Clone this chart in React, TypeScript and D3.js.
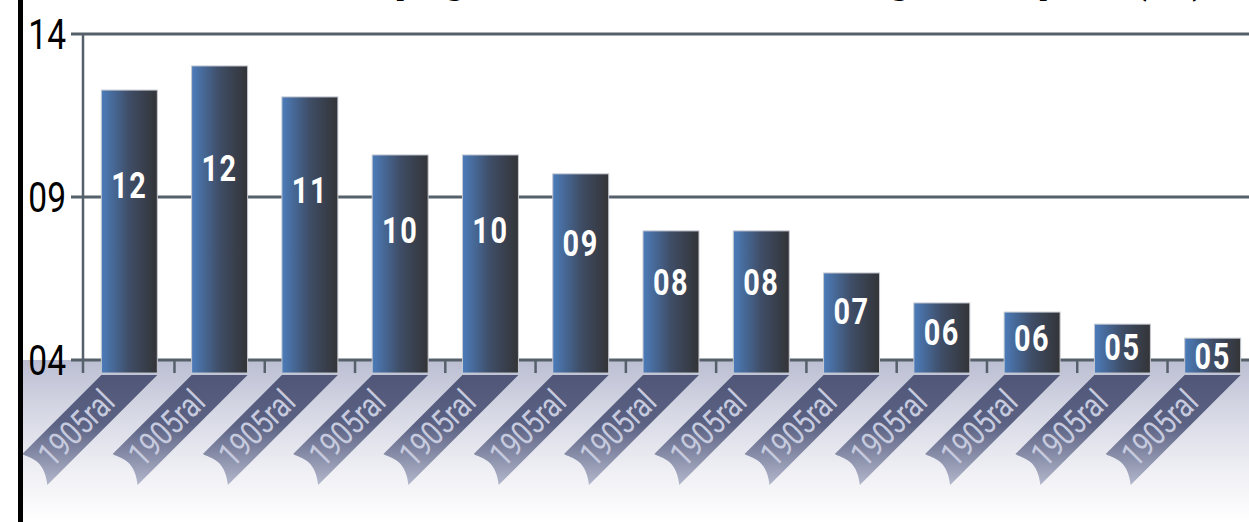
import { scaleBand, scaleLinear } from 'd3';

const categories = [
  '1905ral', '1905ral', '1905ral', '1905ral', '1905ral', '1905ral', '1905ral',
  '1905ral', '1905ral', '1905ral', '1905ral', '1905ral', '1905ral',
];
const values = [12.28, 13.02, 12.07, 10.29, 10.29, 9.71, 7.96, 7.96, 6.67, 5.75, 5.47, 5.1, 4.67];
const valueLabels = ['12', '12', '11', '10', '10', '09', '08', '08', '07', '06', '06', '05', '05'];
const yTicks = [4, 9, 14];
const yTickLabels = ['04', '09', '14'];
const title = 'Top gain of the leading sample (%)';

const W = 1249;
const H = 522;
const BASE_VALUE = 3.6;

export default function App() {
  const x = scaleBand<number>()
    .domain(categories.map((_, i) => i))
    .range([86, 1256])
    .paddingInner(0.38)
    .paddingOuter(0.17);
  const y = scaleLinear().domain([4, 14]).range([360, 34]);

  const bw = x.bandwidth();
  const gap = x.step() - bw;
  const yBase = y(BASE_VALUE);
  const y0 = yBase + 2;

  const ribbon = (L: number) => {
    const R = L + bw;
    return `M${L},${y0} L${R},${y0} L${R - 110},${y0 + 110}
      C${L - 55},${y0 + 101} ${L - 58},${y0 + 92} ${L - 64},${y0 + 87}
      S${L - 76},${y0 + 81} ${L - 79},${y0 + 79} Z`;
  };

  return (
    <svg width={W} height={H} style={{ position: 'absolute', left: 0, top: 0 }}>
      <defs>
        <linearGradient id="barGrad" x1="0" x2="1" y1="0" y2="0">
          <stop offset="0" stopColor="#4c7cba" />
          <stop offset="0.5" stopColor="#3f4d66" />
          <stop offset="1" stopColor="#333437" />
        </linearGradient>
        <linearGradient id="bandGrad" x1="0" x2="0" y1="0" y2="1">
          <stop offset="0" stopColor="#bbbed2" />
          <stop offset="0.3" stopColor="#d4d6e3" />
          <stop offset="0.7" stopColor="#f0f0f5" />
          <stop offset="1" stopColor="#ffffff" />
        </linearGradient>
        <linearGradient id="ribGrad" gradientUnits="userSpaceOnUse" x1="0" x2="0" y1={y0} y2={y0 + 110}>
          <stop offset="0" stopColor="#4f5677" />
          <stop offset="0.45" stopColor="#5b6283" />
          <stop offset="1" stopColor="#b3b7cc" />
        </linearGradient>
      </defs>

      <text
        x={1212}
        y={-9}
        textAnchor="end"
        fontFamily="Roboto, sans-serif"
        fontWeight="bold"
        fontSize={48}
        letterSpacing={4}
        fill="#000"
      >
        {title}
      </text>

      {/* shaded floor */}
      <rect x={23} y={y(4)} width={W - 23} height={H - y(4)} fill="url(#bandGrad)" />

      {/* gridlines */}
      {yTicks.map((t, i) => (
        <g key={t}>
          <line x1={71} x2={W} y1={y(t)} y2={y(t)} stroke="#56606b" strokeWidth={3} />
          <text
            transform={`translate(66, ${y(t)}) scale(0.78, 1)`}
            textAnchor="end"
            dominantBaseline="central"
            fontFamily="Roboto, sans-serif"
            fontSize={43}
            fill="#000"
          >
            {yTickLabels[i]}
          </text>
        </g>
      ))}
      <line x1={83} x2={83} y1={y(14)} y2={yBase} stroke="#56606b" strokeWidth={2.5} />
      {categories.slice(1).map((_, i) => {
        const tx = (x(i + 1) as number) - gap / 2;
        return <line key={i} x1={tx} x2={tx} y1={y(4)} y2={yBase} stroke="#56606b" strokeWidth={2.5} />;
      })}

      {/* ribbons */}
      {categories.map((c, i) => {
        const L = x(i) as number;
        const cx = L + bw / 2 - 53;
        const cy = y0 + 53;
        return (
          <g key={`r${i}`}>
            <path d={ribbon(L)} fill="url(#ribGrad)" />
            <text
              transform={`translate(${cx}, ${cy}) rotate(-45) scale(0.8, 1)`}
              textAnchor="middle"
              dominantBaseline="central"
              fontFamily="Roboto, sans-serif"
              fontSize={34}
              fill="#c6cade"
            >
              {c}
            </text>
          </g>
        );
      })}

      {/* bars */}
      {values.map((v, i) => {
        const L = x(i) as number;
        const top = y(v);
        const ly = top + 0.31 * (yBase + 24 - top);
        return (
          <g key={`b${i}`}>
            <rect
              x={L}
              y={top}
              width={bw}
              height={yBase - top}
              fill="url(#barGrad)"
              stroke="#c5c9d2"
              strokeWidth={1}
            />
            <text
              transform={`translate(${L + bw / 2}, ${ly}) scale(0.78, 1)`}
              textAnchor="middle"
              dominantBaseline="central"
              fontFamily="Roboto, sans-serif"
              fontWeight="bold"
              fontSize={37}
              letterSpacing={2}
              fill="#fff"
            >
              {valueLabels[i]}
            </text>
          </g>
        );
      })}

      {/* left black rule */}
      <rect x={18} y={0} width={5} height={H} fill="#000" />
    </svg>
  );
}
